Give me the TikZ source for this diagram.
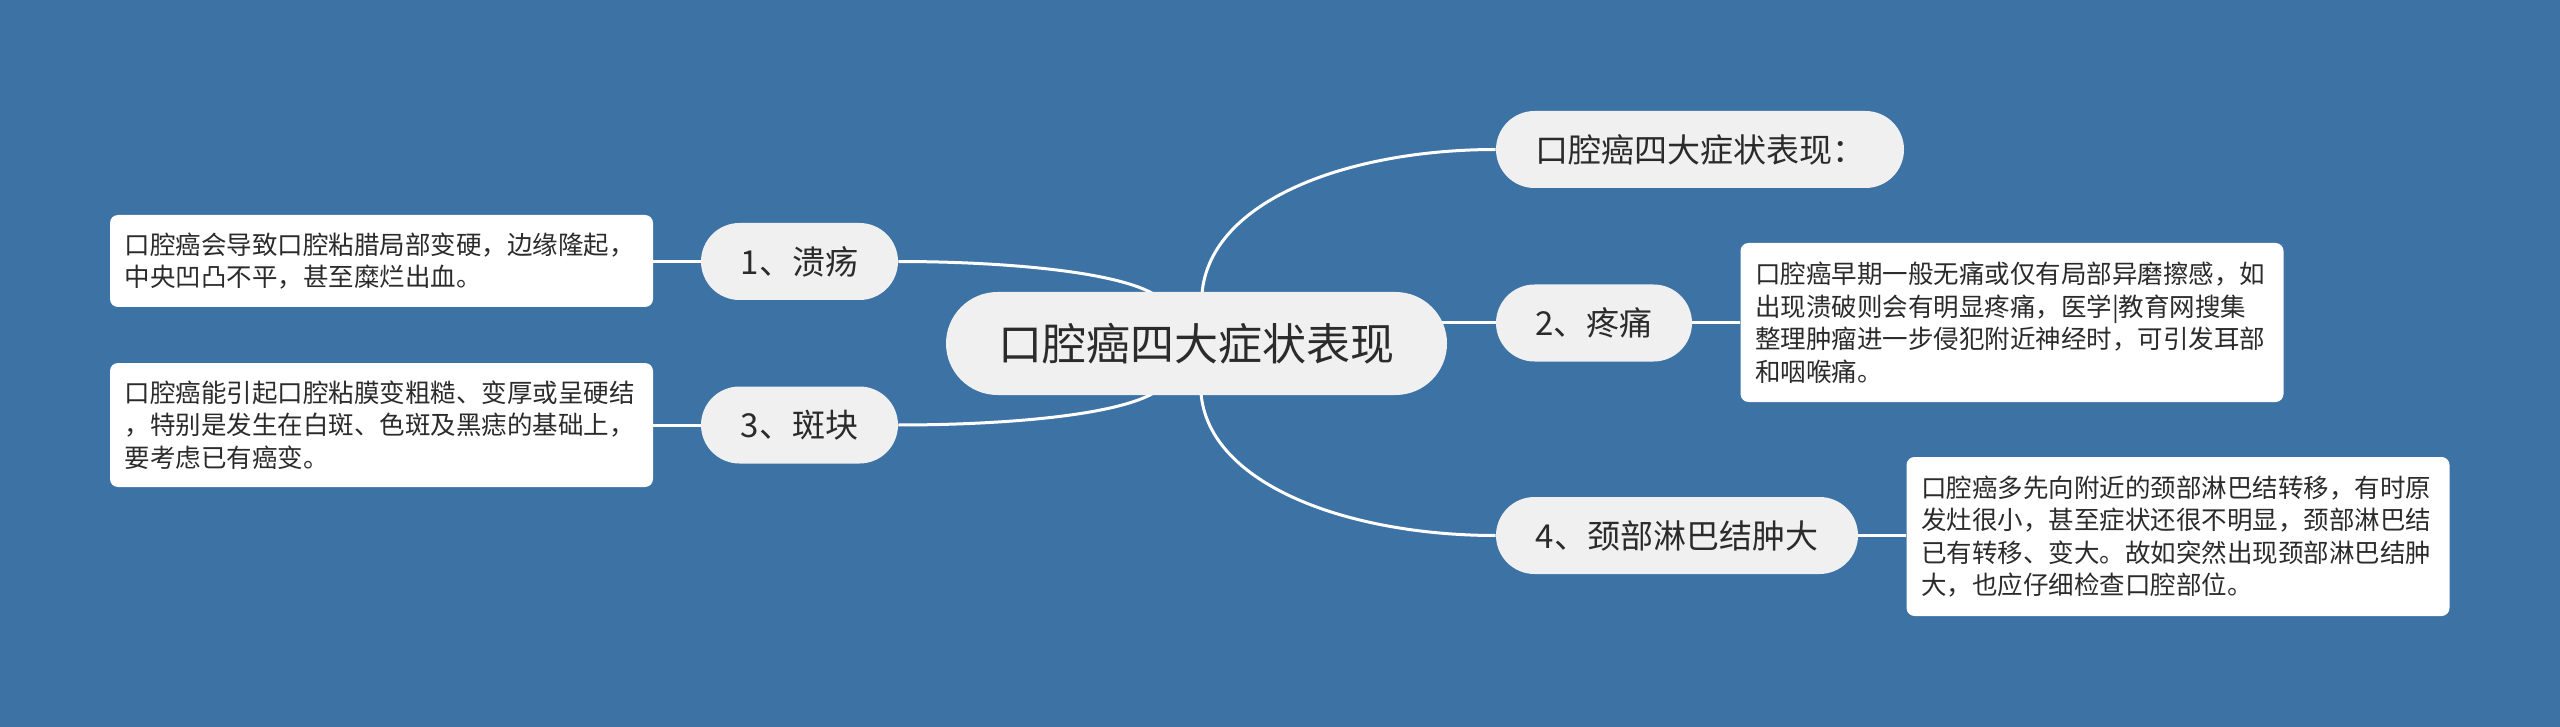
\documentclass[tikz,border=0pt]{standalone}
\usepackage{fontspec}
\setmainfont{Noto Sans CJK SC}
\usetikzlibrary{calc}
\pgfdeclarelayer{background}
\pgfsetlayers{background,main}
\definecolor{bg}{HTML}{3D72A5}
\definecolor{nodefill}{HTML}{F0F0F0}
\definecolor{txt}{HTML}{2B2B2B}
\begin{document}
\begin{tikzpicture}[x=0.5pt,y=-0.5pt,
  rootbox/.style={fill=nodefill, rounded corners=25.75pt, minimum height=51.5pt, inner xsep=0pt, inner ysep=0pt, font=\fontsize{22}{26}\selectfont, text=txt},
  topicbox/.style={fill=nodefill, rounded corners=19.25pt, minimum height=38.5pt, inner xsep=0pt, inner ysep=0pt, font=\fontsize{16.5}{20}\selectfont, text=txt},
  leafbox/.style={fill=white, rounded corners=4pt, text width=257pt, align=left, inner xsep=7.25pt, inner ysep=0pt, font=\fontsize{12.75}{16.25}\selectfont, text=txt},
  link/.style={draw=white, line width=1.5pt}
]
\useasboundingbox (0,0) rectangle (2560,727);

\node[rootbox, minimum width=250.5pt] (root) at (1196.5,343.5) {口腔癌四大症状表现};
\node[topicbox, minimum width=204pt] (top) at (1700,149.5) {口腔癌四大症状表现：};
\node[topicbox, minimum width=98pt] (n2) at (1594,323) {2、疼痛};
\node[topicbox, minimum width=181pt] (n4) at (1677,535.5) {4、颈部淋巴结肿大};
\node[topicbox, minimum width=98.5pt] (n1) at (799.5,261.5) {1、溃疡};
\node[topicbox, minimum width=98.5pt] (n3) at (799.5,425) {3、斑块};

\node[leafbox, minimum height=46pt] (l1) at (381.5,261) {口腔癌会导致口腔粘腊局部变硬，边缘隆起，\\中央凹凸不平，甚至糜烂出血。};
\node[leafbox, minimum height=62pt] (l3) at (381.5,425) {口腔癌能引起口腔粘膜变粗糙、变厚或呈硬结\\，特别是发生在白斑、色斑及黑痣的基础上，\\要考虑已有癌变。};
\node[leafbox, minimum height=79.5pt] (l2) at (2012,322.5) {口腔癌早期一般无痛或仅有局部异磨擦感，如\\出现溃破则会有明显疼痛，医学|教育网搜集\\整理肿瘤进一步侵犯附近神经时，可引发耳部\\和咽喉痛。};
\node[leafbox, minimum height=79.5pt] (l4) at (2178,536.5) {口腔癌多先向附近的颈部淋巴结转移，有时原\\发灶很小，甚至症状还很不明显，颈部淋巴结\\已有转移、变大。故如突然出现颈部淋巴结肿\\大，也应仔细检查口腔部位。};

\begin{pgfonlayer}{background}
\fill[bg] (0,0) rectangle (2560,727);
\draw[link] ($(root.north)+(5.5,2)$) .. controls ($(root.north)+(13.5,-92)$) and ($(top.west)+(-146,0)$) .. (top.west);
\draw[link] ($(root.south)+(4.5,-2)$) .. controls ($(root.south)+(12.5,90)$) and ($(n4.west)+(-146,0)$) .. (n4.west);
\draw[link] (n2.west) -- (n2.west -| root.center);
\draw[link] ($(root.north)+(-43.5,2)$) .. controls ($(root.north)+(-86.5,-22)$) and ($(n1.east)+(92,0)$) .. (n1.east);
\draw[link] ($(root.south)+(-43.5,-2)$) .. controls ($(root.south)+(-86.5,22)$) and ($(n3.east)+(92,0)$) .. (n3.east);
\draw[link] (n1.west) -- (n1.west -| l1.east);
\draw[link] (n3.west) -- (n3.west -| l3.east);
\draw[link] (n2.east) -- (n2.east -| l2.west);
\draw[link] (n4.east) -- (n4.east -| l4.west);
\end{pgfonlayer}
\end{tikzpicture}
\end{document}
